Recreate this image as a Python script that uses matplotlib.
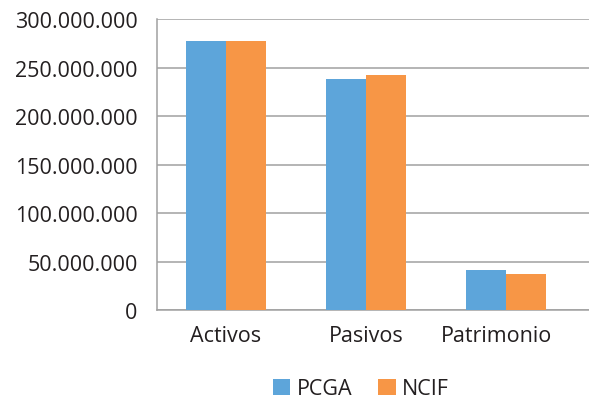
import numpy as np
import matplotlib
matplotlib.use("Agg")
import matplotlib.pyplot as plt
import matplotlib.transforms as mtransforms
from matplotlib.ticker import FuncFormatter

# datos
categorias = ["Activos", "Pasivos", "Patrimonio"]
pcga = [277000000, 238000000, 41000000]
ncif = [277000000, 242000000, 37000000]

plt.rcParams['font.family'] = ['Open Sans', 'DejaVu Sans']
texto = "#231f20"

fig = plt.figure(figsize=(5.89, 4.02), dpi=100)
ax = fig.add_axes([0.2666, 0.2264, 0.7334, 0.7236])

x = np.arange(len(categorias))
w = 0.285
ax.bar(x - w / 2, pcga, w, color="#5DA5DA", label="PCGA", zorder=3)
ax.bar(x + w / 2, ncif, w, color="#F79646", label="NCIF", zorder=3)

ax.set_xlim(-0.49, 2.59)
ax.set_ylim(0, 300000000)
ax.set_yticks(np.arange(0, 300000001, 50000000))
ax.yaxis.set_major_formatter(FuncFormatter(lambda v, p: f"{int(v):,}".replace(",", ".")))
ax.set_xticks(x)
ax.set_xticklabels(categorias)

ax.grid(axis="y", color="#a0a0a0", linewidth=1.1, zorder=0)
for s in ["top", "right"]:
    ax.spines[s].set_visible(False)
for s in ["left", "bottom"]:
    ax.spines[s].set_color("#a0a0a0")
    ax.spines[s].set_linewidth(1.1)
ax.tick_params(length=0, labelsize=15.5, colors=texto, pad=11)
ax.tick_params(axis="y", pad=14)

# la última etiqueta va algo corrida a la izquierda en el original
ultima = ax.get_xticklabels()[-1]
ultima.set_transform(ultima.get_transform() +
                     mtransforms.ScaledTranslation(-0.1, 0, fig.dpi_scale_trans))

fig.legend(loc="center", bbox_to_anchor=(361 / 589, 1 - 390 / 402), ncol=2,
           frameon=False, fontsize=15.5, handlelength=0.8, handleheight=0.8,
           handletextpad=0.3, columnspacing=1.2, labelcolor=texto)

fig.savefig("out.png", dpi=100)
